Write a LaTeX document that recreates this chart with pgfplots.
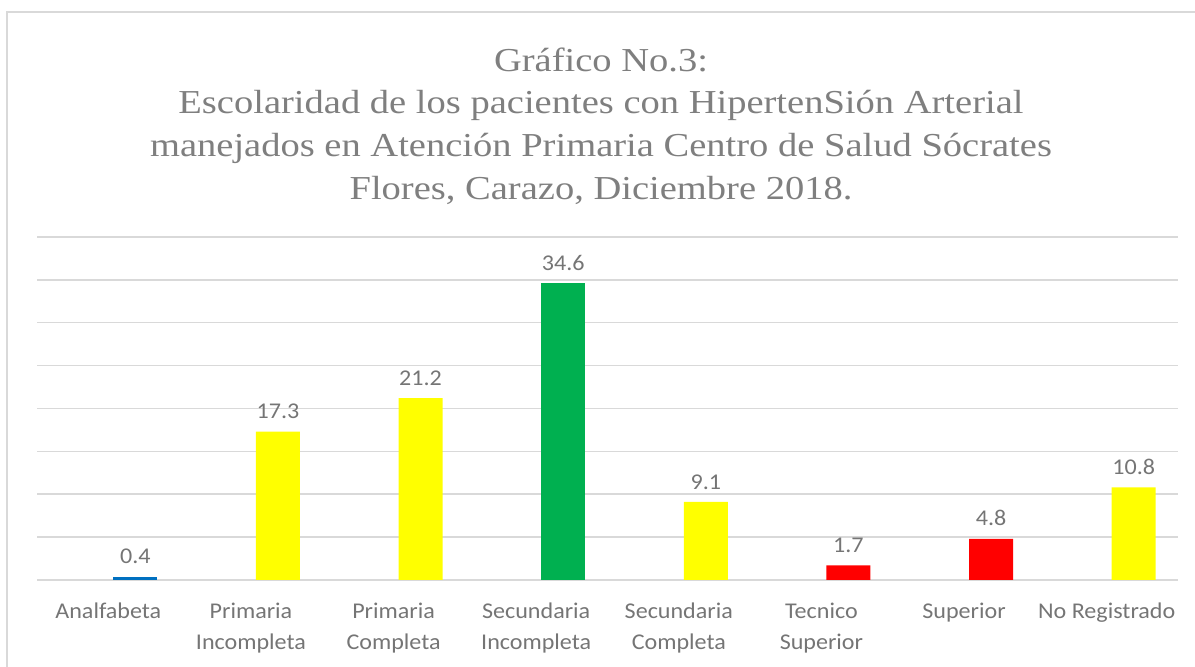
\documentclass[border=0pt]{standalone}
\usepackage{fontspec}
\usepackage{pgfplots}
\pgfplotsset{compat=1.18}
\newfontfamily\calibri[FakeStretch=1.07]{Carlito}
\newfontfamily\titlefont[FakeStretch=1.15]{Liberation Serif}
\definecolor{gridgray}{HTML}{D9D9D9}
\definecolor{txtgray}{HTML}{757575}
\definecolor{titlegray}{HTML}{7F7F7F}
\definecolor{blueC}{HTML}{0070C0}
\definecolor{yellowC}{HTML}{FFFF00}
\definecolor{greenC}{HTML}{00B050}
\definecolor{redC}{HTML}{FF0000}
\begin{document}
\begin{tikzpicture}[x=1pt,y=1pt]
\useasboundingbox (0,0) rectangle (1195,667);
\draw[gridgray, line width=1.2pt] (7,-20) -- (7,655) -- (1220,655);
\begin{scope}[every node/.style={font=\titlefont\fontsize{33.5}{42}\selectfont, text=titlegray, anchor=base}]
\node at (601,595) {Gráfico No.3:};
\node at (601,553) {Escolaridad de los pacientes con HipertenSión Arterial};
\node at (601,510) {manejados en Atención Primaria Centro de Salud Sócrates};
\node at (601,467.5) {Flores, Carazo, Diciembre 2018.};
\end{scope}
\begin{axis}[
  at={(37pt,87pt)}, anchor=south west,
  scale only axis, width=1141pt, height=343pt,
  xmin=-0.5, xmax=7.5, ymin=0, ymax=40,
  ytick={0,5,...,40}, yticklabels={},
  ymajorgrids, grid style={gridgray, line width=1.5pt},
  axis line style={draw=none}, major tick length=0pt,
  xtick={0,...,7},
  xticklabels={Analfabeta, {Primaria\\Incompleta}, {Primaria\\Completa}, {Secundaria\\Incompleta}, {Secundaria\\Completa}, {Tecnico\\Superior}, Superior, No Registrado},
  xticklabel style={font=\calibri\fontsize{22.5}{31}\selectfont, text=txtgray, align=center, inner sep=0pt, anchor=north, yshift=-23pt},
  ybar, bar width=44pt, clip=false,
  nodes near coords,
  nodes near coords style={font=\calibri\fontsize{22.5}{28}\selectfont, text=txtgray, anchor=south, inner sep=0pt, yshift=12.5pt},
  /pgf/number format/assume math mode=true,
  /pgf/number format/fixed, /pgf/number format/precision=1,
]
\addplot[fill=blueC, draw=none, bar shift=27pt] coordinates {(0,0.4)};
\addplot[fill=yellowC, draw=none, bar shift=27pt] coordinates {(1,17.3) (2,21.2) (4,9.1) (7,10.8)};
\addplot[fill=greenC, draw=none, bar shift=27pt] coordinates {(3,34.6)};
\addplot[fill=redC, draw=none, bar shift=27pt] coordinates {(5,1.7) (6,4.8)};
\end{axis}
\end{tikzpicture}
\end{document}
